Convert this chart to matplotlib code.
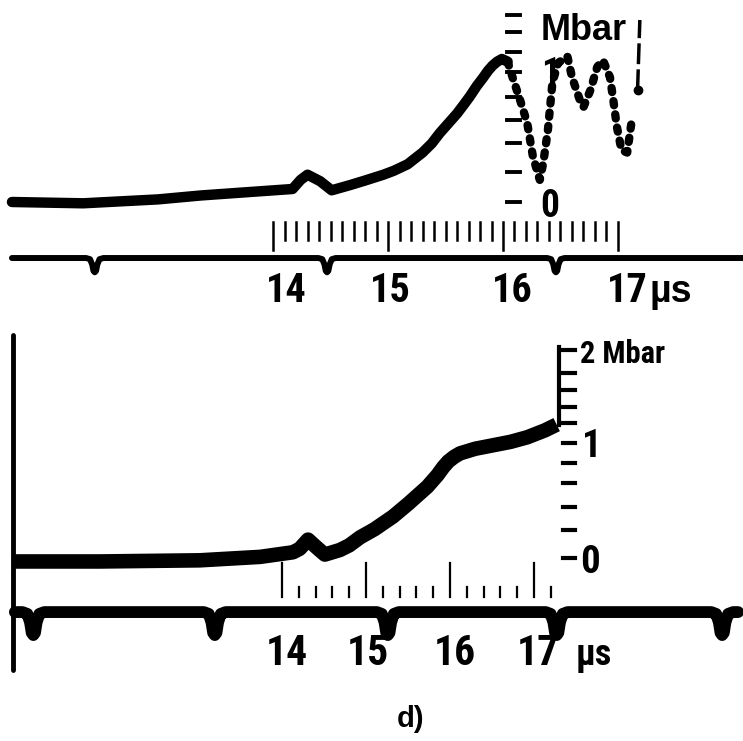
import matplotlib.pyplot as plt
from matplotlib import font_manager
import numpy as np

# ---- upper record (times in us, pressure in Mbar) ----
top_t = [11.73, 12.35, 13.00, 13.37, 13.80, 14.17, 14.24, 14.30, 14.41, 14.51, 14.67, 14.80,
         14.96, 15.05, 15.17, 15.30, 15.38, 15.45, 15.52, 15.60, 15.66, 15.71, 15.77, 15.83,
         15.87, 15.91, 15.95, 15.99, 16.04]
top_p = [0.00, -0.01, 0.02, 0.05, 0.077, 0.10, 0.17, 0.21, 0.16, 0.09, 0.13, 0.165,
         0.21, 0.24, 0.29, 0.38, 0.45, 0.53, 0.60, 0.68, 0.75, 0.81, 0.89, 0.96,
         1.01, 1.05, 1.08, 1.10, 1.08]
# fast, broken part of the upper trace
top_fast_t = [16.04, 16.09, 16.15, 16.21, 16.26, 16.32, 16.35, 16.39, 16.43, 16.48, 16.56, 16.60,
              16.67, 16.70, 16.76, 16.82, 16.87, 16.93, 16.96, 16.99, 17.03, 17.08, 17.12]
top_fast_p = [1.08, 0.94, 0.78, 0.61, 0.35, 0.17, 0.30, 0.55, 0.92, 1.07, 1.12, 0.96,
              0.78, 0.73, 0.86, 1.04, 1.09, 0.96, 0.78, 0.58, 0.40, 0.38, 0.63]
top_spike_t = [17.17, 17.19]
top_spike_p = [0.86, 1.40]
top_marks = [12.45, 14.47, 16.46]             # timing marker dips
top_cal = [0.0, 0.231, 0.454, 0.631, 0.808, 1.0, 1.154, 1.308, 1.438]   # calibration dashes
top_tick_labels = ["14", "15", "16", "17"]
top_label_t = [14.12, 15.02, 16.08, 17.08]

# ---- lower record ----
bot_t = [10.82, 11.83, 13.02, 13.74, 14.13, 14.21, 14.31, 14.40, 14.51, 14.69, 14.80, 14.93,
         15.10, 15.32, 15.50, 15.73, 15.85, 15.92, 15.98, 16.05, 16.12, 16.30, 16.51, 16.72,
         16.92, 17.13, 17.27]
bot_p = [-0.03, -0.03, -0.02, 0.01, 0.05, 0.08, 0.16, 0.10, 0.03, 0.07, 0.11, 0.18,
         0.25, 0.36, 0.47, 0.62, 0.72, 0.79, 0.84, 0.88, 0.91, 0.95, 0.98, 1.01,
         1.05, 1.11, 1.16]
bot_marks = [11.04, 13.20, 15.26, 17.27, 19.24]
bot_cal = [0.0, 0.243, 0.443, 0.652, 0.826, 1.0, 1.174, 1.313, 1.461, 1.609, 1.809]
bot_tick_labels = ["14", "15", "16", "17"]
bot_label_t = [14.06, 15.02, 16.06, 17.05]


# pick a bold condensed face if one is installed
def find_narrow():
    good = []
    for f in font_manager.fontManager.ttflist:
        w = f.weight if isinstance(f.weight, int) else 400
        if f.weight == "bold":
            w = 700
        narrowish = ("Narrow" in f.name or "Condensed" in f.name
                     or f.stretch in ("condensed", "semi-condensed", "extra-condensed"))
        if narrowish and w >= 600 and f.style == "normal":
            good.append(f)
    order = ["Liberation Sans Narrow", "Roboto Condensed", "DejaVu Sans", "Noto Sans", "Open Sans"]
    good.sort(key=lambda f: next((i for i, n in enumerate(order) if f.name.startswith(n)), 99))
    if good:
        return font_manager.FontProperties(fname=good[0].fname)
    return font_manager.FontProperties(family=["Liberation Sans", "DejaVu Sans"], weight="bold")


narrow_fp = find_narrow()
bold = ["Liberation Sans", "DejaVu Sans"]


def nfont(size):
    fp = narrow_fp.copy()
    fp.set_size(size)
    return fp


def marker_line(ax, t0, t1, level, marks, half, depth, lw):
    xs, ys = [t0], [level]
    shape = [(-1.0, 0.0), (-0.55, -0.08), (-0.3, -0.45), (-0.15, -0.9), (0.0, -1.0),
             (0.15, -0.9), (0.3, -0.45), (0.55, -0.08), (1.0, 0.0)]
    for m in marks:
        for dx, dy in shape:
            xs.append(m + dx * half)
            ys.append(level + dy * depth)
    xs.append(t1)
    ys.append(level)
    ax.plot(xs, ys, color="black", lw=lw, solid_capstyle="round", solid_joinstyle="round")


fig = plt.figure(figsize=(7.43, 7.41), dpi=100)

# ---------------- upper panel ----------------
ax1 = fig.add_axes([0, (741 - 310) / 741, 1, 310 / 741])
ax1.set_xlim(11.626, 18.087)
ax1.set_ylim(-0.8308, 1.5538)
ax1.axis("off")

ax1.plot(top_t, top_p, color="black", lw=7.5, solid_capstyle="round", solid_joinstyle="round")
ax1.plot(top_fast_t, top_fast_p, color="black", lw=6, linestyle=(0, (0.5, 1.1)),
         dash_capstyle="round")
ax1.plot(top_spike_t, top_spike_p, color="black", lw=2.5, linestyle=(0, (6, 1.5)))
ax1.plot(top_spike_t[0], top_spike_p[0], "o", color="black", ms=6)

for p in top_cal:
    ax1.plot([16.035, 16.148], [p, p], color="black", lw=2.8)

ticks = np.arange(140, 171) / 10
for tk in ticks:
    major = abs(tk - round(tk)) < 1e-6
    ax1.plot([tk, tk], [-0.154, -0.369 if major else -0.292], color="black", lw=1.8)

marker_line(ax1, 11.73, 18.087, -0.431, top_marks, 0.075, 0.11, 4.3)

for lab, t in zip(top_tick_labels, top_label_t):
    ax1.text(t, -0.77, lab, ha="center", va="baseline", fontproperties=nfont(29))
ax1.text(17.27, -0.77, "\u00b5s", ha="left", va="baseline", fontsize=27,
         fontweight="bold", family=bold)
ax1.text(16.70, 1.246, "Mbar", ha="center", va="baseline", fontsize=26,
         fontweight="bold", family=bold)
ax1.text(16.41, 0.90, "1", ha="center", va="baseline", fontproperties=nfont(27))
ax1.text(16.41, -0.115, "0", ha="center", va="baseline", fontproperties=nfont(27))

# ---------------- lower panel ----------------
ax2 = fig.add_axes([0, 0, 1, 421 / 741])
ax2.set_xlim(10.643, 19.488)
ax2.set_ylim(-1.591, 2.0696)
ax2.axis("off")

ax2.plot([10.80, 10.80], [1.94, -0.974], color="black", lw=3.5, solid_capstyle="round")
ax2.plot(bot_t, bot_p, color="black", lw=10.5, solid_capstyle="butt", solid_joinstyle="round")
ax2.plot([17.30, 17.30], [1.835, 1.16], color="black", lw=3.0)
for p in bot_cal:
    ax2.plot([17.345, 17.488], [p, p], color="black", lw=3.0)

ticks = np.arange(70, 87) / 5
for tk in ticks:
    major = abs(tk - round(tk)) < 1e-6
    ax2.plot([tk, tk], [-0.043 if major else -0.252, -0.339], color="black", lw=1.6)

marker_line(ax2, 10.82, 19.43, -0.47, bot_marks, 0.13, 0.20, 8.5)

for lab, t in zip(bot_tick_labels, bot_label_t):
    ax2.text(t, -0.93, lab, ha="center", va="baseline", fontproperties=nfont(30))
ax2.text(17.50, -0.93, "\u00b5s", ha="left", va="baseline", fontproperties=nfont(26))
ax2.text(17.55, 1.696, "2 Mbar", ha="left", va="baseline", fontproperties=nfont(22))
ax2.text(17.57, 0.878, "1", ha="left", va="baseline", fontproperties=nfont(28))
ax2.text(17.55, -0.13, "0", ha="left", va="baseline", fontproperties=nfont(28))

fig.text(411 / 743, 1 - 727 / 741, "d)", ha="center", va="baseline", fontsize=21,
         fontweight="bold", family=bold)

fig.savefig("out.png", dpi=100)
